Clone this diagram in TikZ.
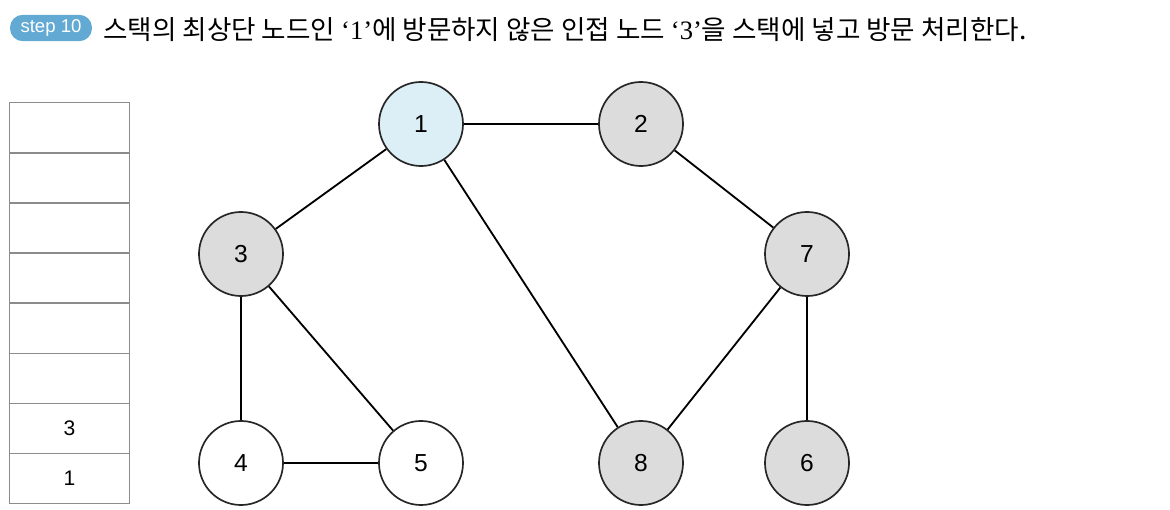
\documentclass[tikz,border=0pt]{standalone}
\usepackage{fontspec}
\setsansfont{Liberation Sans}
\newfontfamily\kofont{Noto Sans CJK KR}
\newfontfamily\latinfont{Liberation Serif}
\usepackage{xcolor}
\usetikzlibrary{positioning,shapes}
\definecolor{visitblue}{HTML}{DCEEF6}
\definecolor{stackgray}{HTML}{DCDCDC}
\definecolor{badgeblue}{HTML}{62A9D3}
\begin{document}
\begin{tikzpicture}[x=0.025cm,y=-0.025cm,
    vnode/.style={circle, draw=black!85, line width=1.2pt, minimum size=2.1cm,
      inner sep=0pt, font=\sffamily\fontsize{17.5}{20}\selectfont},
    done/.style={vnode, fill=stackgray},
    cur/.style={vnode, fill=visitblue},
    cell/.style={draw=black!45, line width=0.7pt, minimum width=2.975cm,
      minimum height=1.25cm, inner sep=0pt, font=\sffamily\fontsize{15}{18}\selectfont},
    link/.style={draw=black, line width=1.3pt}]
            % Platzhalter
            \useasboundingbox (0,0) rectangle (1170,510);

            \node[fill=badgeblue, text=white, rounded corners=0.32cm, minimum width=2.05cm,
              minimum height=0.66cm, inner sep=0pt, font=\sffamily\fontsize{13.2}{14}\selectfont]
              (badge) at (51,28) {step 10};
            \node[anchor=west, inner sep=0pt, font=\fontsize{18.9}{22}\selectfont]
              (title) at (103,30) {\kofont 스택의 최상단 노드인 {\latinfont ‘1’}에 방문하지 않은 인접 노드 {\latinfont ‘3’}을 스택에 넣고 방문 처리한다.};

            % Stapel
            \foreach \i/\t in {8/, 7/, 6/, 5/, 4/, 3/, 2/3, 1/1}
              \node[cell] (s\i) at (69.5, 528-50*\i) {\t};

            % Graph
            \node[cur]  (n1) at (421,124) {1};
            \node[done] (n2) at (641,124) {2};
            \node[done] (n3) at (241,254) {3};
            \node[done] (n7) at (807,254) {7};
            \node[vnode] (n4) at (241,463) {4};
            \node[vnode] (n5) at (421,463) {5};
            \node[done] (n8) at (641,463) {8};
            \node[done] (n6) at (807,463) {6};

            \path[link] (n1) edge (n2)
                    (n1) edge (n3)
                    (n1) edge (n8)
                    (n2) edge (n7)
                    (n3) edge (n4)
                    (n3) edge (n5)
                    (n4) edge (n5)
                    (n7) edge (n8)
                    (n7) edge (n6);
        \end{tikzpicture}
\end{document}
